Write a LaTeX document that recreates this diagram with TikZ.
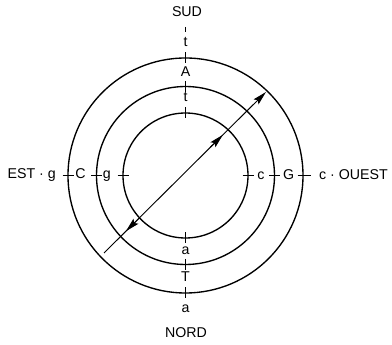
\documentclass[tikz,border=0pt]{standalone}
\usepackage{fontspec}
\setmainfont{Liberation Sans}
\usetikzlibrary{arrows.meta,calc}
\begin{document}
\begin{tikzpicture}[x=1pt,y=-1pt,
  ring/.style={line width=1.35pt},
  tickmark/.style={line width=1.25pt},
  lbl/.style={font=\fontsize{14.2}{16}\selectfont, inner sep=0pt},
  arr/.style={-{Stealth[length=14pt,width=7pt,inset=2.5pt]}, line width=0.95pt}]
\useasboundingbox (0,0) rectangle (392,345);
\coordinate (O) at (185.5,175.5);
% circles
\foreach \r in {62.5,89,117.5} {
  \draw[ring] (O) circle[radius=\r pt];
  \draw[tickmark] ($(O)+({-\r-5.5},0)$) -- ++(11,0);
  \draw[tickmark] ($(O)+({\r-5.5},0)$) -- ++(11,0);
  \draw[tickmark] ($(O)+(0,{-\r-5.5})$) -- ++(0,11);
  \draw[tickmark] ($(O)+(0,{\r-5.5})$) -- ++(0,11);
}
\draw[tickmark] ($(O)+(117.5,0)$) -- ++(8,0);
% short dash above top
\coordinate (d1) at (185.5,27);
\coordinate (d2) at (185.5,32.5);
\draw[line width=0.8pt] (d1) -- (d2);
% diagonal with arrows
\coordinate (P1) at (104,253);
\coordinate (P2) at (266,92);
\draw[arr] (P1) -- (P2);
\draw[arr] ($(P1)!150pt!(P2)$) -- ($(P1)!167.6pt!(P2)$);
\draw[arr] ($(P1)!50pt!(P2)$) -- ($(P1)!31pt!(P2)$);
% horizontal labels
\node[lbl, anchor=base east] (est) at (56,178.8) {EST · g};
\node[lbl, anchor=base] (C) at (80.5,178.8) {C};
\node[lbl, anchor=base] (gl) at (106.7,178.8) {g};
\node[lbl, anchor=base] (cr) at (261,179.5) {c};
\node[lbl, anchor=base] (G) at (288.7,179.5) {G};
\node[lbl, anchor=base west] (ouest) at (319,179.5) {c · OUEST};
% vertical labels
\node[lbl] (sud) at (187,12) {SUD};
\node[lbl] (t1) at (185.5,42) {t};
\node[lbl] (A) at (185.5,71.3) {A};
\node[lbl] (t2) at (185.5,96.7) {t};
\node[lbl] (a1) at (185.5,250.5) {a};
\node[lbl] (T) at (185.5,276.7) {T};
\node[lbl] (a2) at (185.5,308.3) {a};
\node[lbl] (nord) at (186,332.8) {NORD};
\end{tikzpicture}
\end{document}
